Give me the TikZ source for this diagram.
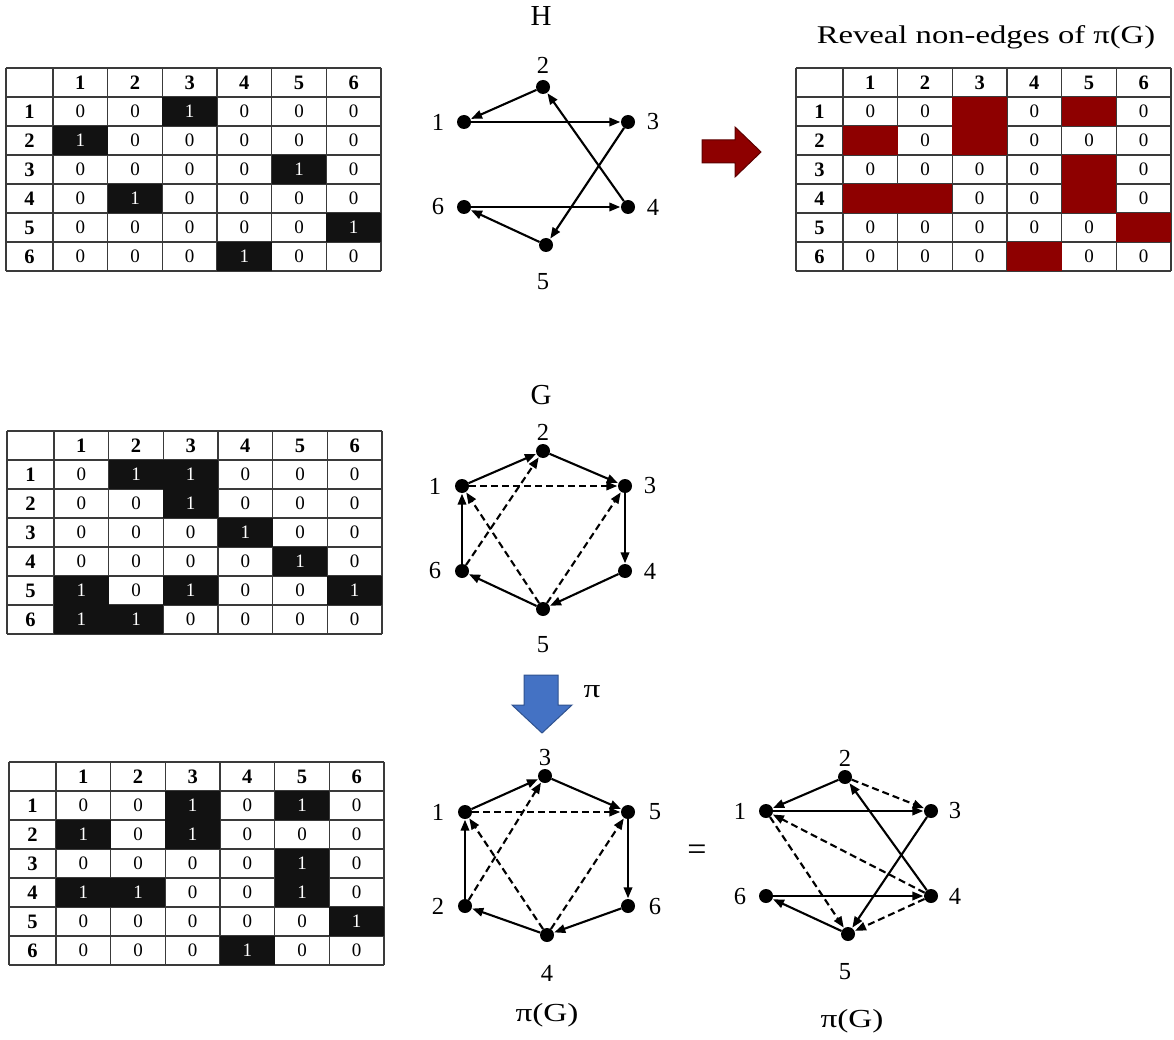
\documentclass[tikz,border=0pt]{standalone}
\usepackage{fontspec}
\setmainfont{Liberation Serif}
\newfontfamily\widefont[FakeStretch=1.28]{Liberation Serif}
\usetikzlibrary{arrows.meta}
\definecolor{revred}{HTML}{8E0000}
\definecolor{revredline}{HTML}{5C0000}
\definecolor{piblue}{HTML}{4472C4}
\definecolor{piblueline}{HTML}{2F528F}
\definecolor{gridgray}{HTML}{3A3A3A}
\definecolor{onefill}{HTML}{121212}
\tikzset{
  cell/.style={font=\fontsize{19}{19}\selectfont, inner sep=0pt},
  hdr/.style={font=\fontsize{20.5}{20.5}\selectfont\bfseries, inner sep=0pt},
  gridline/.style={line width=1.2pt, draw=gridgray},
  dot/.style={circle, fill=black, minimum size=14pt, inner sep=0pt},
  vlbl/.style={font=\fontsize{24.5}{24.5}\selectfont, inner sep=0pt},
  edge/.style={line width=2.1pt, -{Triangle[length=11pt,width=8.5pt]}, shorten >=0.5pt},
  dedge/.style={edge, dash pattern=on 7pt off 4pt},
  glabel/.style={font=\fontsize{29}{29}\selectfont, inner sep=0pt},
  wtitle/.style={font=\widefont\fontsize{25.5}{25.5}\selectfont, inner sep=0pt},
  pitext/.style={font=\widefont\fontsize{26}{26}\selectfont, inner sep=0pt},
}
\newcommand\drawadjmat[4]{%
  \begin{scope}[shift={(#2,#3)}]
    \foreach \yy in {0,29,...,203} \draw[gridline] (0,\yy) -- (375,\yy);
    \draw[gridline] (0,0) -- (0,203);
    \foreach \cc in {0,...,6} \draw[gridline] ({47+\cc*54.667},0) -- ({47+\cc*54.667},203);
    \foreach \cc in {1,...,6} \node[hdr] (#1-h\cc) at ({47+(\cc-0.5)*54.667},14.5) {\cc};
    \foreach \rr in {1,...,6} \node[hdr] (#1-v\rr) at (23.5,{(\rr+0.5)*29}) {\rr};
    \foreach \row [count=\r] in {#4} {
      \foreach \v [count=\c] in \row {
        \ifcase\v
          \node[cell] (#1-\r-\c) at ({47+(\c-0.5)*54.667},{(\r+0.5)*29}) {0};
        \or
          \fill[onefill] ({47+(\c-1)*54.667},{\r*29}) rectangle ({47+\c*54.667},{(\r+1)*29});
          \node[cell,text=white] (#1-\r-\c) at ({47+(\c-0.5)*54.667},{(\r+0.5)*29}) {1};
        \or
          \fill[revred] ({47+(\c-1)*54.667},{\r*29}) rectangle ({47+\c*54.667},{(\r+1)*29});
        \fi
      }
    }
  \end{scope}}
\begin{document}
\begin{tikzpicture}[x=1pt,y=-1pt]
\useasboundingbox[fill=white] (0,0) rectangle (1174,1040);

% ---------- matrices ----------
\drawadjmat{mH}{6}{68}{{0,0,1,0,0,0},{1,0,0,0,0,0},{0,0,0,0,1,0},{0,1,0,0,0,0},{0,0,0,0,0,1},{0,0,0,1,0,0}}
\drawadjmat{mR}{796}{68}{{0,0,2,0,2,0},{2,0,2,0,0,0},{0,0,0,0,2,0},{2,2,0,0,2,0},{0,0,0,0,0,2},{0,0,0,2,0,0}}
\drawadjmat{mG}{7}{431}{{0,1,1,0,0,0},{0,0,1,0,0,0},{0,0,0,1,0,0},{0,0,0,0,1,0},{1,0,1,0,0,1},{1,1,0,0,0,0}}
\drawadjmat{mP}{9}{762}{{0,0,1,0,1,0},{1,0,1,0,0,0},{0,0,0,0,1,0},{1,1,0,0,1,0},{0,0,0,0,0,1},{0,0,0,1,0,0}}

% ---------- titles ----------
\node[wtitle] (revtitle) at (986,37) {Reveal non-edges of π(G)};
\node[glabel] (Hlab) at (541,16) {H};
\node[glabel] (Glab) at (541,395) {G};

% ---------- red arrow ----------
\draw[fill=revred, draw=revredline, line width=1pt, line join=miter]
  (702,140) -- (735,140) -- (735,127) -- (761,152) -- (735,177) -- (735,163) -- (702,163) -- cycle;

% ---------- blue arrow ----------
\draw[fill=piblue, draw=piblueline, line width=1pt, line join=miter]
  (524,675) -- (558,675) -- (558,705) -- (572,705) -- (542,733) -- (512,705) -- (524,705) -- cycle;
\node[pitext] (pilab) at (592,692) {π};

% ---------- graph H ----------
\node[dot] (h1) at (464,122) {};
\node[dot] (h2) at (543,87) {};
\node[dot] (h3) at (628,122) {};
\node[dot] (h4) at (628,207) {};
\node[dot] (h5) at (546,245) {};
\node[dot] (h6) at (464,207) {};
\node[vlbl] (h1l) at (438,122) {1};
\node[vlbl] (h2l) at (543,65) {2};
\node[vlbl] (h3l) at (653,122) {3};
\node[vlbl] (h4l) at (653,207) {4};
\node[vlbl] (h5l) at (543,282) {5};
\node[vlbl] (h6l) at (438,207) {6};
\draw[edge] (h2) -- (h1);
\draw[edge] (h1) -- (h3);
\draw[edge] (h3) -- (h5);
\draw[edge] (h4) -- (h2);
\draw[edge] (h6) -- (h4);
\draw[edge] (h5) -- (h6);

% ---------- graph G ----------
\node[dot] (g1) at (462,486) {};
\node[dot] (g2) at (543,451) {};
\node[dot] (g3) at (625,486) {};
\node[dot] (g4) at (625,571) {};
\node[dot] (g5) at (543,609) {};
\node[dot] (g6) at (462,571) {};
\node[vlbl] (g1l) at (435,486) {1};
\node[vlbl] (g2l) at (543,432) {2};
\node[vlbl] (g3l) at (650,486) {3};
\node[vlbl] (g4l) at (650,571) {4};
\node[vlbl] (g5l) at (543,645) {5};
\node[vlbl] (g6l) at (435,571) {6};
\draw[edge] (g1) -- (g2);
\draw[edge] (g2) -- (g3);
\draw[edge] (g3) -- (g4);
\draw[edge] (g4) -- (g5);
\draw[edge] (g5) -- (g6);
\draw[edge] (g6) -- (g1);
\draw[dedge] (g1) -- (g3);
\draw[dedge] (g6) -- (g2);
\draw[dedge] (g5) -- (g1);
\draw[dedge] (g5) -- (g3);

% ---------- graph pi(G), hexagon ----------
\node[dot] (p1) at (465,812) {};
\node[dot] (p3) at (545,776) {};
\node[dot] (p5) at (628,812) {};
\node[dot] (p6) at (628,906) {};
\node[dot] (p4) at (547,935) {};
\node[dot] (p2) at (465,906) {};
\node[vlbl] (p3l) at (545,758) {3};
\node[vlbl] (p1l) at (438,812) {1};
\node[vlbl] (p5l) at (655,812) {5};
\node[vlbl] (p2l) at (438,906) {2};
\node[vlbl] (p6l) at (655,906) {6};
\node[vlbl] (p4l) at (547,973) {4};
\draw[edge] (p1) -- (p3);
\draw[edge] (p3) -- (p5);
\draw[edge] (p5) -- (p6);
\draw[edge] (p6) -- (p4);
\draw[edge] (p4) -- (p2);
\draw[edge] (p2) -- (p1);
\draw[dedge] (p1) -- (p5);
\draw[dedge] (p2) -- (p3);
\draw[dedge] (p4) -- (p1);
\draw[dedge] (p4) -- (p5);
\node[pitext] (pgl) at (547,1015) {π(G)};

\node[glabel, font=\fontsize{34}{34}\selectfont] (eq) at (697,853) {=};

% ---------- graph pi(G), H layout ----------
\node[dot] (q2) at (845,777) {};
\node[dot] (q1) at (766,811) {};
\node[dot] (q3) at (931,811) {};
\node[dot] (q6) at (766,896) {};
\node[dot] (q4) at (931,896) {};
\node[dot] (q5) at (848,934) {};
\node[vlbl] (q2l) at (845,758) {2};
\node[vlbl] (q1l) at (740,811) {1};
\node[vlbl] (q3l) at (955,811) {3};
\node[vlbl] (q6l) at (740,896) {6};
\node[vlbl] (q4l) at (955,896) {4};
\node[vlbl] (q5l) at (845,972) {5};
\draw[edge] (q2) -- (q1);
\draw[edge] (q1) -- (q3);
\draw[edge] (q3) -- (q5);
\draw[edge] (q4) -- (q2);
\draw[edge] (q6) -- (q4);
\draw[edge] (q5) -- (q6);
\draw[dedge] (q2) -- (q3);
\draw[dedge] (q4) -- (q1);
\draw[dedge] (q1) -- (q5);
\draw[dedge] (q4) -- (q5);
\node[pitext] (qgl) at (852,1021) {π(G)};
\end{tikzpicture}
\end{document}
